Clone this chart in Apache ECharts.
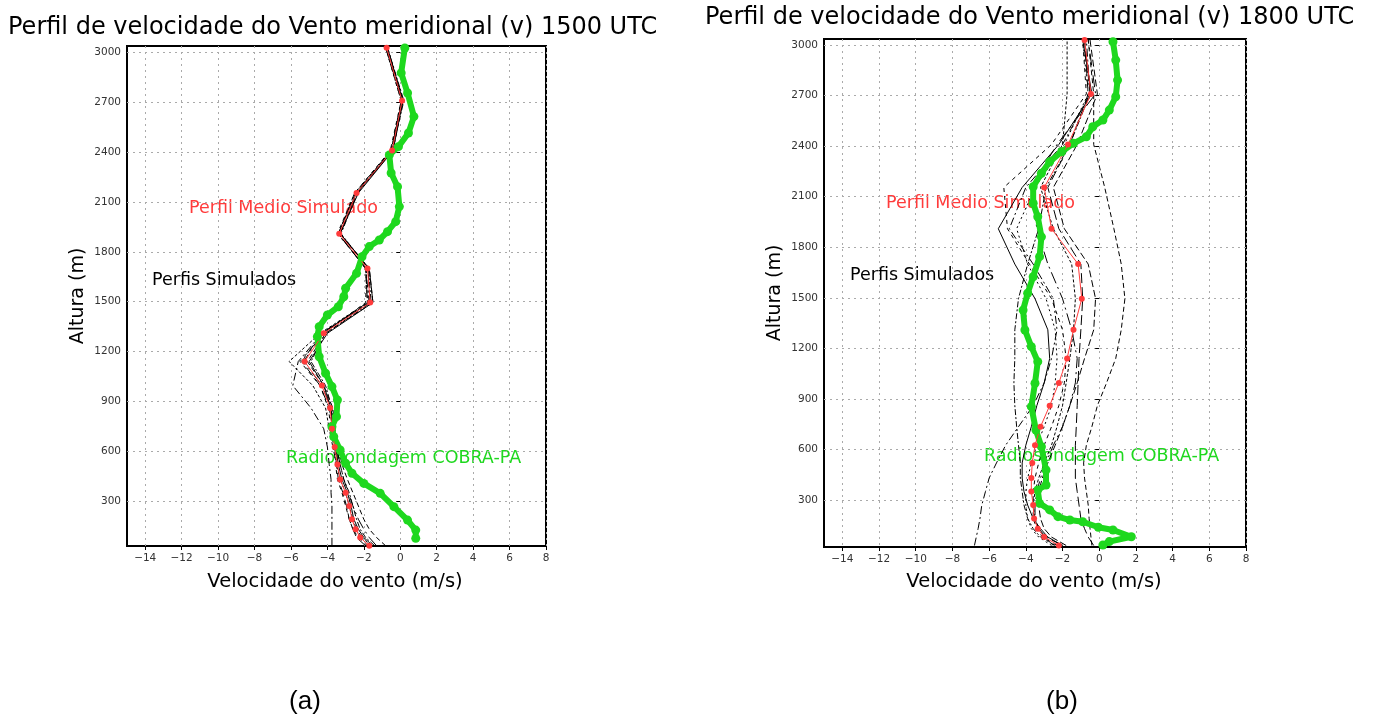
<!DOCTYPE html>
<html>
<head>
<meta charset="utf-8">
<title>Perfil de velocidade do Vento meridional</title>
<script src="https://cdn.jsdelivr.net/npm/echarts@6.0.0/dist/echarts.min.js"></script>
<style>
  html, body { margin: 0; padding: 0; background: #fff; }
  #chart { width: 1384px; height: 719px; }
</style>
</head>
<body>
<div id="chart"></div>
<script>
// eixos
const xTicks = [-14, -12, -10, -8, -6, -4, -2, 0, 2, 4, 6, 8];
const yTicks = [300, 600, 900, 1200, 1500, 1800, 2100, 2400, 2700, 3000];

// niveis do modelo (m)
const levels = [30, 80, 130, 190, 270, 350, 430, 520, 625, 735, 860, 995, 1140, 1310, 1495, 1700, 1910, 2155, 2410, 2710, 3030];

// (a) 1500 UTC
const meanA = [-1.7, -2.2, -2.45, -2.65, -2.8, -3.0, -3.3, -3.45, -3.6, -3.75, -3.85, -4.3, -5.25, -4.2, -1.65, -1.8, -3.35, -2.4, -0.45, 0.1, -0.75];
const simA = [
  [-3.75, -3.75, -3.75, -3.75, -3.75, -3.8, -3.8, -3.9, -4.0, -4.2, -4.9, -5.9, -5.6, -4.3, -1.7, -1.9, -3.4, -2.4, -0.5, 0.1, -0.8],
  [-0.8, -1.3, -1.7, -2.0, -2.3, -2.6, -2.9, -3.2, -3.4, -3.6, -3.7, -4.2, -5.1, -4.1, -1.5, -1.7, -3.3, -2.4, -0.4, 0.15, -0.7],
  [-1.6, -2.1, -2.4, -2.6, -2.8, -3.0, -3.3, -3.5, -3.7, -3.9, -4.1, -4.8, -6.1, -4.4, -1.8, -1.9, -3.4, -2.5, -0.5, 0.05, -0.8],
  [-1.5, -2.0, -2.3, -2.55, -2.7, -2.9, -3.2, -3.4, -3.55, -3.7, -3.8, -4.2, -5.0, -4.0, -1.5, -1.7, -3.3, -2.3, -0.4, 0.15, -0.7],
  [-1.9, -2.4, -2.6, -2.8, -2.95, -3.15, -3.4, -3.5, -3.6, -3.7, -3.9, -4.4, -5.4, -4.3, -1.8, -1.9, -3.4, -2.45, -0.5, 0.1, -0.75],
  [-1.4, -1.9, -2.2, -2.4, -2.6, -2.8, -3.1, -3.3, -3.5, -3.6, -3.75, -4.1, -4.9, -4.1, -1.6, -1.75, -3.25, -2.35, -0.45, 0.2, -0.7],
  [-1.8, -2.3, -2.6, -2.8, -3.0, -3.2, -3.45, -3.55, -3.65, -3.8, -3.95, -4.4, -5.5, -4.2, -1.9, -1.85, -3.45, -2.5, -0.55, 0.05, -0.8],
  [-1.3, -1.7, -2.0, -2.3, -2.6, -2.85, -3.1, -3.3, -3.5, -3.7, -3.8, -4.3, -5.3, -4.3, -1.7, -1.75, -3.3, -2.4, -0.4, 0.1, -0.7]
];
const sondeHeightA = [75, 125, 185, 266, 346, 406, 467, 527, 607, 687, 747, 808, 908, 989, 1069, 1169, 1290, 1350, 1420, 1470, 1530, 1581, 1671, 1771, 1832, 1872, 1922, 1982, 2073, 2193, 2275, 2384, 2434, 2516, 2615, 2757, 2878, 3028];
const sondeWindA = [0.85, 0.85, 0.4, -0.35, -1.1, -2.0, -2.65, -3.0, -3.3, -3.65, -3.75, -3.5, -3.45, -3.75, -4.1, -4.45, -4.55, -4.45, -4.0, -3.4, -3.1, -3.0, -2.4, -2.1, -1.7, -1.15, -0.7, -0.25, -0.05, -0.15, -0.5, -0.6, -0.1, 0.45, 0.75, 0.4, 0.05, 0.25];

// (b) 1800 UTC
const meanB = [-2.2, -3.0, -3.35, -3.55, -3.6, -3.7, -3.7, -3.65, -3.5, -3.2, -2.7, -2.2, -1.75, -1.4, -0.95, -1.15, -2.6, -3.0, -1.7, -0.45, -0.8];
const simB = [
  [-6.8, -6.7, -6.6, -6.5, -6.4, -6.2, -6.0, -5.6, -5.1, -4.4, -3.6, -3.0, -2.6, -2.3, -2.5, -3.6, -4.9, -4.0, -2.0, -0.5, -0.7],
  [-0.4, -0.45, -0.5, -0.55, -0.6, -0.7, -0.8, -0.85, -0.7, -0.4, -0.1, 0.4, 0.9, 1.2, 1.4, 1.2, 0.8, 0.3, -0.3, -0.3, -0.6],
  [-2.5, -3.0, -3.3, -3.5, -3.6, -3.5, -3.3, -3.0, -2.6, -2.3, -2.0, -1.8, -1.6, -1.4, -1.3, -1.5, -2.5, -3.2, -2.0, -1.75, -1.75],
  [-2.0, -2.8, -3.2, -3.6, -3.9, -4.1, -4.2, -4.2, -4.0, -3.7, -3.4, -3.0, -2.7, -2.8, -3.5, -4.6, -5.5, -4.2, -2.2, -0.4, -0.9],
  [-0.3, -0.6, -0.8, -1.0, -1.1, -1.2, -1.3, -1.3, -1.3, -1.25, -1.2, -1.15, -1.1, -1.0, -0.9, -1.0, -2.2, -2.8, -1.6, -0.6, -0.8],
  [-2.4, -3.2, -3.6, -3.9, -4.1, -4.2, -4.3, -4.3, -4.4, -4.5, -4.6, -4.65, -4.6, -4.6, -4.4, -3.9, -3.3, -2.9, -1.6, -0.5, -0.8],
  [-2.3, -3.1, -3.4, -3.6, -3.6, -3.6, -3.5, -3.3, -3.0, -2.6, -2.2, -1.9, -1.8, -2.0, -2.6, -3.8, -5.0, -5.2, -2.6, -0.7, -0.9],
  [-2.0, -2.9, -3.3, -3.5, -3.5, -3.4, -3.2, -2.9, -2.5, -2.0, -1.6, -1.3, -1.2, -1.5, -2.0, -2.8, -3.4, -3.7, -2.3, -0.2, -0.6],
  [-1.8, -2.6, -3.0, -3.2, -3.3, -3.3, -3.1, -2.8, -2.4, -2.0, -1.6, -1.2, -0.8, -0.3, -0.2, -0.6, -1.9, -2.5, -1.2, -0.1, -0.5],
  [-2.6, -3.3, -3.7, -3.9, -4.0, -4.0, -3.9, -3.7, -3.4, -3.0, -2.6, -2.4, -2.3, -2.4, -2.9, -3.9, -4.5, -3.5, -1.9, -0.6, -0.9]
];
const sondeHeightB = [33, 53, 82, 122, 138, 171, 181, 201, 241, 280, 359, 389, 478, 616, 715, 854, 993, 1121, 1210, 1309, 1427, 1527, 1625, 1744, 1862, 1981, 2061, 2159, 2239, 2307, 2367, 2417, 2456, 2515, 2555, 2614, 2693, 2792, 2911, 3020];
const sondeWindB = [0.2, 0.55, 1.75, 0.75, -0.05, -0.9, -1.6, -2.25, -2.7, -3.25, -3.35, -2.9, -2.9, -3.15, -3.45, -3.7, -3.5, -3.35, -3.7, -4.05, -4.15, -3.9, -3.6, -3.25, -3.15, -3.35, -3.6, -3.6, -3.15, -2.7, -2.05, -1.4, -0.7, -0.35, 0.2, 0.55, 0.9, 1.0, 0.9, 0.75];

const dashes = [[8, 3, 2, 3], [5, 3], [3, 2], 'solid', [10, 4], [6, 2, 2, 2], [4, 4], [12, 4, 2, 4], [7, 3], [2, 3]];

function pairs(h, v) {
  return h.map((y, i) => [v[i], y]);
}

function axisPair(idx) {
  const x = {
    type: 'value', gridIndex: idx, min: -15, max: 8,
    axisLine: { show: false },
    axisTick: { show: true, customValues: xTicks, length: 4, lineStyle: { color: '#000' } },
    axisLabel: {
      customValues: xTicks, margin: 7, color: '#333', fontSize: 10.5, fontFamily: 'DejaVu Sans',
      formatter: v => (v < 0 ? '\u2212' + Math.abs(v) : String(v))
    },
    splitLine: { show: true, lineStyle: { color: '#aaa', type: [2, 4], width: 1 } }
  };
  const y = {
    type: 'value', gridIndex: idx,
    min: idx === 0 ? 29 : 21, max: idx === 0 ? 3040 : 3036,
    axisLine: { show: false },
    axisTick: { show: true, customValues: yTicks, length: 4, lineStyle: { color: '#000' } },
    axisLabel: {
      customValues: yTicks, margin: 6, color: '#333', fontSize: 10.5, fontFamily: 'DejaVu Sans',
      formatter: v => String(v)
    },
    splitLine: { show: true, lineStyle: { color: '#aaa', type: [2, 4], width: 1 } }
  };
  return [x, y];
}

function panelSeries(idx, sims, mean, sH, sV) {
  const out = [];
  sims.forEach((s, i) => {
    out.push({
      type: 'line', xAxisIndex: idx, yAxisIndex: idx, data: pairs(levels, s),
      symbol: 'none', silent: true,
      lineStyle: { color: '#000', width: 1, type: dashes[i % dashes.length] }
    });
  });
  out.push({
    type: 'line', xAxisIndex: idx, yAxisIndex: idx, data: pairs(sH, sV),
    symbol: 'circle', symbolSize: 9, silent: true,
    itemStyle: { color: '#1ed81e' },
    lineStyle: { color: '#1ed81e', width: 6 }
  });
  out.push({
    type: 'line', xAxisIndex: idx, yAxisIndex: idx, data: pairs(levels, mean),
    symbol: 'circle', symbolSize: 6, silent: true,
    itemStyle: { color: '#ff3b3b' },
    lineStyle: { color: '#ff3b3b', width: 1 }
  });
  return out;
}

function txt(text, x, y, size, color, extra) {
  return {
    type: 'text', x: x, y: y, silent: true,
    style: Object.assign({
      text: text, fill: color, font: size + 'px "DejaVu Sans"',
      textAlign: 'left', textVerticalAlign: 'middle'
    }, extra || {})
  };
}

const chart = echarts.init(document.getElementById('chart'));
const [xa, ya] = axisPair(0);
const [xb, yb] = axisPair(1);

const option = {
  animation: false,
  backgroundColor: '#fff',
  grid: [
    { left: 127, top: 46, width: 419, height: 500, show: true, borderColor: '#000', borderWidth: 2, backgroundColor: 'transparent' },
    { left: 824, top: 39, width: 422, height: 508, show: true, borderColor: '#000', borderWidth: 2, backgroundColor: 'transparent' }
  ],
  xAxis: [xa, xb],
  yAxis: [ya, yb],
  series: panelSeries(0, simA, meanA, sondeHeightA, sondeWindA)
    .concat(panelSeries(1, simB, meanB, sondeHeightB, sondeWindB)),
  graphic: [
    txt('Perfil de velocidade do Vento meridional (v) 1500 UTC', 8, 28, 24, '#000'),
    txt('Perfil de velocidade do Vento meridional (v) 1800 UTC', 705, 18, 24, '#000'),

    { type: 'text', x: 78, y: 296, rotation: Math.PI / 2, silent: true,
      style: { text: 'Altura (m)', fill: '#000', font: '19px "DejaVu Sans"', textAlign: 'center', textVerticalAlign: 'middle' } },
    { type: 'text', x: 775, y: 293, rotation: Math.PI / 2, silent: true,
      style: { text: 'Altura (m)', fill: '#000', font: '19px "DejaVu Sans"', textAlign: 'center', textVerticalAlign: 'middle' } },
    txt('Velocidade do vento (m/s)', 335, 582, 19.5, '#000', { textAlign: 'center' }),
    txt('Velocidade do vento (m/s)', 1034, 582, 19.5, '#000', { textAlign: 'center' }),

    txt('Perfil Medio Simulado', 189, 208, 17.5, '#ff3b3b'),
    txt('Perfis Simulados', 152, 280, 17.5, '#000'),
    txt('Radiosondagem COBRA-PA', 286, 458, 17.5, '#1ed81e'),
    txt('Perfil Medio Simulado', 886, 203, 17.5, '#ff3b3b'),
    txt('Perfis Simulados', 850, 275, 17.5, '#000'),
    txt('Radiosondagem COBRA-PA', 984, 456, 17.5, '#1ed81e'),

    { type: 'text', x: 305, y: 702, silent: true,
      style: { text: '(a)', fill: '#000', font: '26px "Liberation Sans"', textAlign: 'center', textVerticalAlign: 'middle' } },
    { type: 'text', x: 1062, y: 702, silent: true,
      style: { text: '(b)', fill: '#000', font: '26px "Liberation Sans"', textAlign: 'center', textVerticalAlign: 'middle' } }
  ]
};

chart.setOption(option);
</script>
</body>
</html>
